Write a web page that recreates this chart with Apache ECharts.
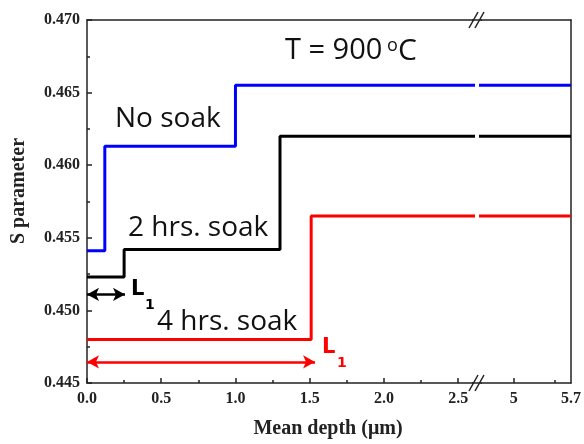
<!DOCTYPE html>
<html>
<head>
<meta charset="utf-8">
<script src="https://cdn.jsdelivr.net/npm/echarts@6/dist/echarts.min.js"></script>
<style>html,body{margin:0;padding:0;background:#fff;}#c{width:584px;height:444px;}</style>
</head>
<body>
<div id="c"></div>
<script>
// ---- data ----
const depthNoSoak = [0, 0.12, 1.0, 5.7];
const sNoSoak     = [0.4541, 0.4613, 0.4655, 0.4655];
const depth2h     = [0, 0.25, 1.30, 5.7];
const s2h         = [0.4523, 0.4542, 0.4620, 0.4620];
const depth4h     = [0, 1.51, 5.7];
const s4h         = [0.4480, 0.4565, 0.4565];
const arrowBlack  = [0, 0.256, 0.4511];   // x from, x to, y
const arrowRed    = [0, 1.536, 0.44645];
const xMajorLeft  = [0, 0.5, 1.0, 1.5, 2.0, 2.5];
const xMinorLeft  = [0.25, 0.75, 1.25, 1.75, 2.25];
const xMajorRight = [5, 5.7];
const xTickRight  = [5];
const xMinorRight = [5.5];

const toPts = (xs, ys) => xs.map((x, i) => [x, ys[i]]);
const axisColor = '#222';
const labelFont = { fontFamily: 'Liberation Serif', fontWeight: 'bold', fontSize: 16, color: '#222' };

const chart = echarts.init(document.getElementById('c'), null, { renderer: 'canvas' });

function lineSeries(name, pts, color, xi, yi, markLine) {
  const s = {
    name, type: 'line', data: pts, step: 'end', xAxisIndex: xi, yAxisIndex: yi,
    showSymbol: false, symbol: 'none', lineStyle: { color, width: 3 }, itemStyle: { color },
    clip: true, silent: true, z: 3
  };
  if (markLine) s.markLine = markLine;
  return s;
}
function arrow(a, color) {
  return {
    silent: true, symbol: ['arrow', 'arrow'], symbolSize: [10, 12],
    label: { show: false }, lineStyle: { color, width: 2.5, type: 'solid' },
    emphasis: { disabled: true },
    data: [[{ coord: [a[0], a[2]] }, { coord: [a[1], a[2]] }]]
  };
}
function txt(x, y, text, size, color, weight, family, extra) {
  return Object.assign({ type: 'text', z: 50, x, y,
    style: { text, fontSize: size, fontWeight: weight || 'normal', fontFamily: family || 'Open Sans',
             fill: color, align: 'left', verticalAlign: 'middle' } }, extra || {});
}

const G1 = { left: 87, top: 20, width: 386, height: 363 };
const G2 = { left: 481, top: 20, width: 93, height: 363 };

const option = {
  animation: false,
  grid: [G1, G2],
  xAxis: [
    { gridIndex: 0, type: 'value', position: 'bottom', min: 0, max: 2.6,
      axisLine: { show: true, lineStyle: { color: axisColor, width: 1.5 } },
      axisTick: { show: true, inside: true, length: 5, customValues: xMajorLeft, lineStyle: { color: axisColor, width: 1.5 } },
      axisLabel: { show: true, customValues: xMajorLeft, margin: 8, formatter: v => v.toFixed(1), ...labelFont },
      splitLine: { show: false } },
    { gridIndex: 0, type: 'value', position: 'bottom', min: 0, max: 2.6,
      axisLine: { show: false },
      axisTick: { show: true, inside: true, length: 3, customValues: xMinorLeft, lineStyle: { color: axisColor, width: 1.5 } },
      axisLabel: { show: false }, splitLine: { show: false } },
    { gridIndex: 0, type: 'value', position: 'top', min: 0, max: 2.6,
      axisLine: { show: true, lineStyle: { color: axisColor, width: 1.5 } },
      axisTick: { show: false }, axisLabel: { show: false }, splitLine: { show: false } },
    { gridIndex: 1, type: 'value', position: 'bottom', min: 4.6, max: 5.7,
      axisLine: { show: true, lineStyle: { color: axisColor, width: 1.5 } },
      axisTick: { show: true, inside: true, length: 5, customValues: xTickRight, lineStyle: { color: axisColor, width: 1.5 } },
      axisLabel: { show: true, customValues: xMajorRight, margin: 8, formatter: v => String(+v.toFixed(1)), ...labelFont },
      splitLine: { show: false } },
    { gridIndex: 1, type: 'value', position: 'bottom', min: 4.6, max: 5.7,
      axisLine: { show: false },
      axisTick: { show: true, inside: true, length: 3, customValues: xMinorRight, lineStyle: { color: axisColor, width: 1.5 } },
      axisLabel: { show: false }, splitLine: { show: false } },
    { gridIndex: 1, type: 'value', position: 'top', min: 4.6, max: 5.7,
      axisLine: { show: true, lineStyle: { color: axisColor, width: 1.5 } },
      axisTick: { show: false }, axisLabel: { show: false }, splitLine: { show: false } }
  ],
  yAxis: [
    { gridIndex: 0, type: 'value', position: 'left', min: 0.445, max: 0.470, interval: 0.005,
      axisLine: { show: true, lineStyle: { color: axisColor, width: 1.5 } },
      axisTick: { show: true, inside: true, length: 5, lineStyle: { color: axisColor, width: 1.5 } },
      minorTick: { show: true, splitNumber: 2, length: 3, lineStyle: { color: axisColor, width: 1.5 } },
      axisLabel: { show: true, margin: 7, formatter: v => v.toFixed(3), ...labelFont },
      splitLine: { show: false }, minorSplitLine: { show: false } },
    { gridIndex: 1, type: 'value', position: 'left', min: 0.445, max: 0.470, interval: 0.005,
      axisLine: { show: false }, axisTick: { show: false }, axisLabel: { show: false }, splitLine: { show: false } },
    { gridIndex: 1, type: 'value', position: 'right', min: 0.445, max: 0.470, interval: 0.005,
      axisLine: { show: true, lineStyle: { color: axisColor, width: 1.5 } },
      axisTick: { show: false }, axisLabel: { show: false }, splitLine: { show: false } }
  ],
  series: [
    lineSeries('No soak', toPts(depthNoSoak, sNoSoak), '#0000ff', 0, 0),
    lineSeries('2 hrs. soak', toPts(depth2h, s2h), '#000000', 0, 0, arrow(arrowBlack, '#000000')),
    lineSeries('4 hrs. soak', toPts(depth4h, s4h), '#ff0000', 0, 0, arrow(arrowRed, '#ff0000')),
    lineSeries('No soak', toPts(depthNoSoak, sNoSoak), '#0000ff', 3, 1),
    lineSeries('2 hrs. soak', toPts(depth2h, s2h), '#000000', 3, 1),
    lineSeries('4 hrs. soak', toPts(depth4h, s4h), '#ff0000', 3, 1)
  ],
  graphic: [
    // axis break marks
    { type: 'line', z: 50, shape: { x1: 472, y1: 20, x2: 482, y2: 20 }, style: { stroke: axisColor, lineWidth: 1.5 } },
    { type: 'line', z: 50, shape: { x1: 469, y1: 28, x2: 478, y2: 12 }, style: { stroke: axisColor, lineWidth: 1.5 } },
    { type: 'line', z: 50, shape: { x1: 475, y1: 28, x2: 484, y2: 12 }, style: { stroke: axisColor, lineWidth: 1.5 } },
    { type: 'line', z: 50, shape: { x1: 472, y1: 383, x2: 482, y2: 383 }, style: { stroke: axisColor, lineWidth: 1.5 } },
    { type: 'line', z: 50, shape: { x1: 469, y1: 391, x2: 478, y2: 375 }, style: { stroke: axisColor, lineWidth: 1.5 } },
    { type: 'line', z: 50, shape: { x1: 475, y1: 391, x2: 484, y2: 375 }, style: { stroke: axisColor, lineWidth: 1.5 } },
    // axis names
    { type: 'text', z: 50, x: 19, y: 191, rotation: Math.PI / 2,
      style: { text: 'S parameter', fontSize: 20, fontWeight: 'bold', fontFamily: 'Liberation Serif', fill: '#222', align: 'center', verticalAlign: 'middle' } },
    { type: 'text', z: 50, x: 328, y: 429,
      style: { text: 'Mean depth (\u03bcm)', fontSize: 20, fontWeight: 'bold', fontFamily: 'Liberation Serif', fill: '#222', align: 'center', verticalAlign: 'middle' } },
    // annotations
    txt(285, 51, 'T = 900', 29, '#111'),
    txt(387, 46, 'o', 18, '#111'),
    txt(398, 51, 'C', 30, '#111'),
    txt(115, 119, 'No soak', 28, '#111'),
    txt(128, 228, '2 hrs. soak', 28, '#111'),
    txt(157, 322, '4 hrs. soak', 28, '#111'),
    txt(131, 290, 'L', 21, '#000', 'bold', 'DejaVu Sans'),
    txt(145, 305, '1', 14, '#000', 'bold', 'DejaVu Sans'),
    txt(322, 348, 'L', 21, '#ff0000', 'bold', 'DejaVu Sans'),
    txt(337, 363, '1', 14, '#ff0000', 'bold', 'DejaVu Sans')
  ]
};
chart.setOption(option);
</script>
</body>
</html>
